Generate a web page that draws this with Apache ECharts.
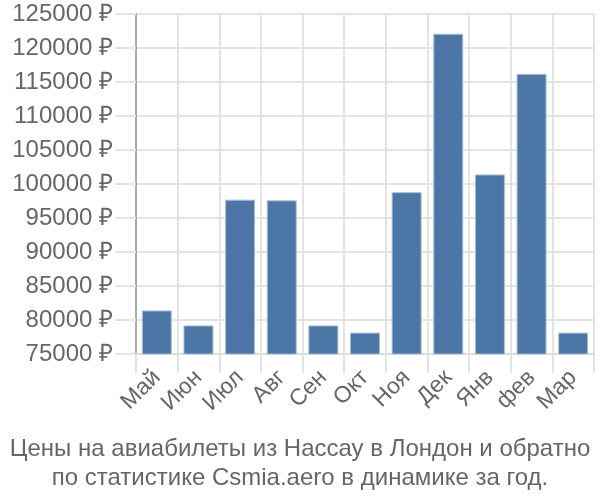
<!DOCTYPE html>
<html><head><meta charset="utf-8">
<script src="https://cdn.jsdelivr.net/npm/echarts@6/dist/echarts.min.js"></script>
<style>html,body{margin:0;padding:0;background:#fff}#c{width:600px;height:500px}</style>
</head><body><div id="c"></div>
<script>
const categories = ["Май","Июн","Июл","Авг","Сен","Окт","Ноя","Дек","Янв","фев","Мар"];
const prices = [81400, 79200, 97700, 97600, 79200, 78150, 98800, 122100, 101400, 116200, 78150];
const yMin = 75000, yMax = 125000, yStep = 5000;
const titleLines = ["Цены на авиабилеты из Нассау в Лондон и обратно", "по статистике Csmia.aero в динамике за год."];

const chart = echarts.init(document.getElementById('c'), null, {renderer:'canvas'});
chart.setOption({
  animation:false,
  backgroundColor:'#fff',
  title:{text:titleLines.join('\n'), left:'center', top:430,
    textStyle:{fontFamily:'Liberation Sans', fontSize:24, fontWeight:'normal', color:'#666', lineHeight:29}},
  grid:{left:136, right:6, top:14, bottom:146, containLabel:false},
  xAxis:{type:'category', data:categories,
    axisLine:{show:true, lineStyle:{color:'#ddd', width:2}},
    axisTick:{show:true, length:19, interval:0, lineStyle:{color:'#e3e3e3', width:2}},
    splitLine:{show:true, interval:0, lineStyle:{color:'#e3e3e3', width:2}},
    axisLabel:{rotate:45, interval:0, hideOverlap:false, margin:20, fontFamily:'Liberation Sans', fontSize:23, color:'#666'}},
  yAxis:{type:'value', min:yMin, max:yMax, interval:yStep,
    axisLine:{show:true, lineStyle:{color:'#aaa', width:2}},
    axisTick:{show:true, length:21, lineStyle:{color:'#e3e3e3', width:2}},
    splitLine:{show:true, lineStyle:{color:'#e3e3e3', width:2}},
    axisLabel:{margin:23, fontFamily:'Liberation Sans', fontSize:24, color:'#666',
      formatter:function(v){return String(v)+' ₽';}}},
  series:[{type:'bar', data:prices, barCategoryGap:'28%',
    itemStyle:{color:'#4b76a6', borderColor:'#a9bfd8', borderWidth:1}}]
});
</script></body></html>
